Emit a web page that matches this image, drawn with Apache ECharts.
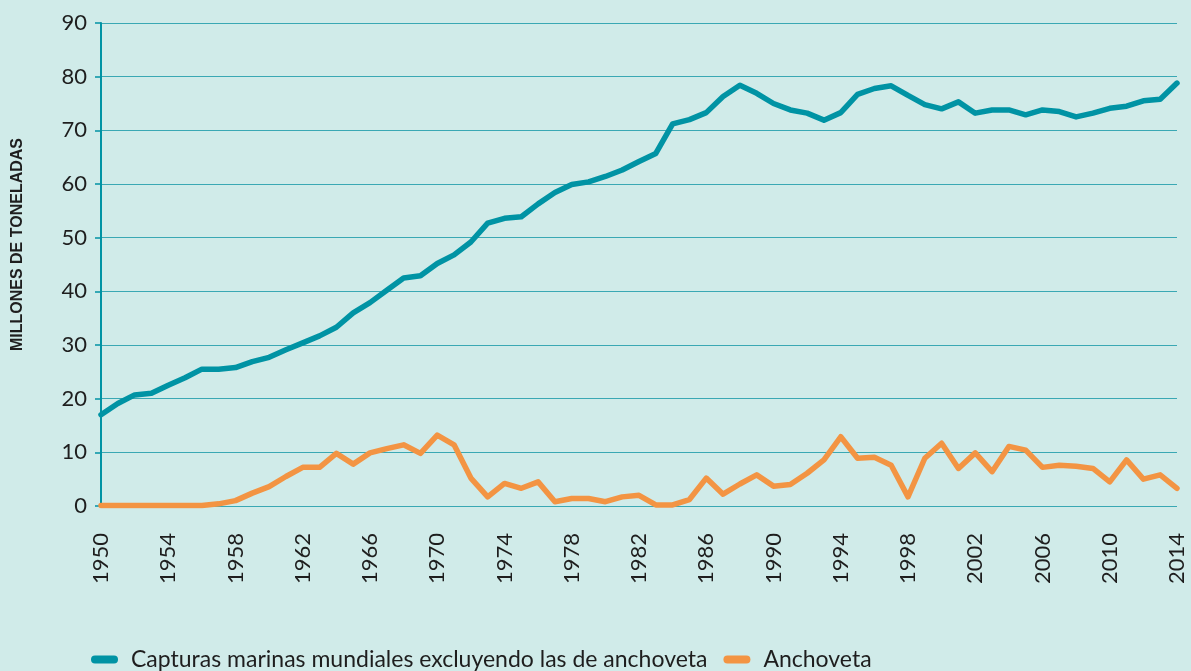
<!DOCTYPE html>
<html>
<head>
<meta charset="utf-8">
<script src="https://cdn.jsdelivr.net/npm/echarts@6/dist/echarts.min.js"></script>
<style>
  html, body { margin: 0; padding: 0; background: #d0ebe9; }
  #chart { width: 1191px; height: 671px; }
</style>
</head>
<body>
<div id="chart"></div>
<script>
// años 1950-2014
const years = []
for (let y = 1950; y <= 2014; y++) years.push(String(y))

// millones de toneladas
const capturas = [
  17.0, 19.1, 20.7, 21.0, 22.5, 23.9, 25.5, 25.5, 25.8, 26.9,
  27.7, 29.1, 30.4, 31.7, 33.3, 36.0, 37.9, 40.2, 42.5, 42.9,
  45.2, 46.8, 49.2, 52.7, 53.6, 53.9, 56.3, 58.4, 59.9, 60.4,
  61.4, 62.6, 64.2, 65.7, 71.2, 72.0, 73.3, 76.3, 78.4, 76.9,
  75.0, 73.8, 73.2, 71.9, 73.3, 76.7, 77.8, 78.3, 76.5, 74.8,
  74.0, 75.3, 73.2, 73.8, 73.8, 72.9, 73.8, 73.5, 72.5, 73.2,
  74.1, 74.5, 75.5, 75.8, 78.8
]

const anchoveta = [
  0.1, 0.1, 0.1, 0.1, 0.1, 0.1, 0.1, 0.4, 1.0, 2.4,
  3.6, 5.5, 7.2, 7.2, 9.8, 7.8, 9.9, 10.7, 11.4, 9.8,
  13.2, 11.4, 5.2, 1.7, 4.2, 3.3, 4.5, 0.8, 1.4, 1.4,
  0.8, 1.7, 2.0, 0.2, 0.2, 1.2, 5.2, 2.2, 4.1, 5.8,
  3.7, 4.0, 6.1, 8.6, 12.9, 8.9, 9.1, 7.6, 1.7, 8.9,
  11.7, 7.0, 9.9, 6.4, 11.1, 10.4, 7.2, 7.6, 7.4, 7.0,
  4.5, 8.6, 5.0, 5.8, 3.3
]

const teal = '#0093a4'
const orange = '#f39443'
const gridColor = '#3aa8b4'
const textColor = '#1e1e1e'
const font = 'Lato, "Noto Sans", sans-serif'
const pill = 'path://M4,0 H23 A4,4 0 0 1 23,8 H4 A4,4 0 0 1 4,0 Z'

const chart = echarts.init(document.getElementById('chart'))

chart.setOption({
  backgroundColor: '#d0ebe9',
  animation: false,
  grid: { left: 101, right: 14, top: 23, bottom: 165 },
  graphic: [{
    type: 'text',
    left: 10,
    top: 138,
    rotation: Math.PI / 2,
    style: {
      text: 'MILLONES DE TONELADAS',
      font: 'bold 16px "Liberation Sans Narrow", "Liberation Sans", sans-serif',
      fill: textColor
    }
  }],
  legend: {
    top: 643,
    left: 86,
    itemWidth: 27,
    itemHeight: 8,
    itemGap: 16,
    textStyle: { fontFamily: font, fontSize: 23, color: textColor, padding: [0, 0, 0, 8] },
    data: [
      { name: 'Capturas marinas mundiales excluyendo las de anchoveta', icon: pill },
      { name: 'Anchoveta', icon: pill }
    ]
  },
  xAxis: {
    type: 'category',
    data: years,
    boundaryGap: false,
    axisLine: { show: false },
    axisTick: { show: false },
    axisLabel: {
      interval: 3,
      rotate: 90,
      margin: 27,
      fontFamily: font,
      fontSize: 22,
      color: textColor
    },
    splitLine: { show: false }
  },
  yAxis: {
    type: 'value',
    min: 0,
    max: 90,
    interval: 10,
    axisLine: { show: true, lineStyle: { color: teal, width: 2 } },
    axisTick: { show: true, length: 6, lineStyle: { color: teal, width: 1.5 } },
    axisLabel: { margin: 14, fontFamily: font, fontSize: 22, color: textColor },
    splitLine: { show: true, lineStyle: { color: gridColor, width: 1.2 } }
  },
  series: [
    {
      name: 'Capturas marinas mundiales excluyendo las de anchoveta',
      type: 'line',
      data: capturas,
      symbol: 'none',
      color: teal,
      lineStyle: { color: teal, width: 5.5, cap: 'round', join: 'round' }
    },
    {
      name: 'Anchoveta',
      type: 'line',
      data: anchoveta,
      symbol: 'none',
      color: orange,
      lineStyle: { color: orange, width: 5.5, cap: 'round', join: 'round' }
    }
  ]
})
</script>
</body>
</html>
